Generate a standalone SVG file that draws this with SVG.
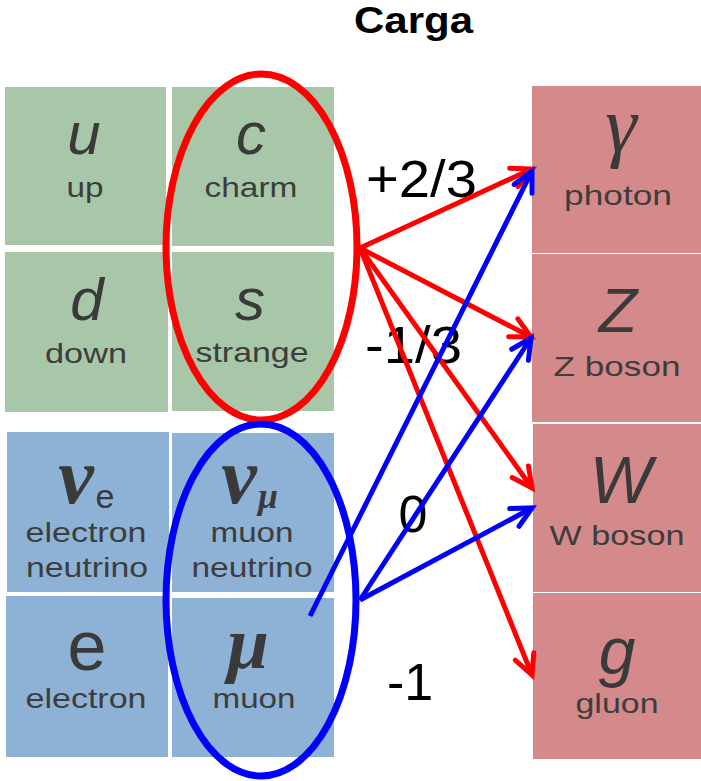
<svg xmlns="http://www.w3.org/2000/svg" width="701" height="781" viewBox="0 0 701 781">
<style>
.g{fill:#a8c6a8}.b{fill:#8eb2d6}.r{fill:#d48a8a}
.sym{font-family:"Liberation Sans",Arial,sans-serif;font-style:italic;fill:#3a3a3a;text-anchor:middle}
.ser{font-family:"Liberation Serif","Times New Roman",serif;font-style:italic;fill:#3a3a3a;text-anchor:middle}
.lbl{font-family:"Liberation Sans",Arial,sans-serif;font-size:28px;fill:#3d3d3d;text-anchor:middle}
.chg{font-family:"Liberation Sans",Arial,sans-serif;font-size:52px;fill:#000}
.ra{stroke:#ff0000;stroke-width:5;fill:none;marker-end:url(#mr)}
.ba{stroke:#0000ff;stroke-width:5;fill:none;marker-end:url(#mb)}
</style>
<defs>
<marker id="mr" markerUnits="userSpaceOnUse" markerWidth="26" markerHeight="26" refX="22" refY="12" orient="auto" overflow="visible">
<path d="M2,2 L22,12 L2,22" fill="none" stroke="#ff0000" stroke-width="5" stroke-linecap="round" stroke-linejoin="miter"/>
</marker>
<marker id="mb" markerUnits="userSpaceOnUse" markerWidth="26" markerHeight="26" refX="22" refY="12" orient="auto" overflow="visible">
<path d="M2,2 L22,12 L2,22" fill="none" stroke="#0000ff" stroke-width="5" stroke-linecap="round" stroke-linejoin="miter"/>
</marker>
</defs>
<rect width="701" height="781" fill="#fff"/>
<text x="354" y="33" font-family="Liberation Sans,Arial,sans-serif" font-weight="bold" font-size="36" textLength="119" lengthAdjust="spacingAndGlyphs">Carga</text>

<g id="up"><rect class="g" x="5" y="87" width="161" height="158"/><text class="sym" x="84" y="154" font-size="60">u</text><text class="lbl" x="85" y="197" textLength="37" lengthAdjust="spacingAndGlyphs">up</text></g>
<g id="charm"><rect class="g" x="172" y="87" width="162" height="159"/><text class="sym" x="251" y="154" font-size="60">c</text><text class="lbl" x="251" y="197" textLength="93" lengthAdjust="spacingAndGlyphs">charm</text></g>
<g id="down"><rect class="g" x="5" y="252" width="163" height="160"/><text class="sym" x="87" y="320" font-size="60">d</text><text class="lbl" x="86" y="363" textLength="82" lengthAdjust="spacingAndGlyphs">down</text></g>
<g id="strange"><rect class="g" x="172" y="252" width="162" height="159"/><text class="sym" x="250" y="320" font-size="60">s</text><text class="lbl" x="252" y="362" textLength="113" lengthAdjust="spacingAndGlyphs">strange</text></g>

<g id="nue"><rect class="b" x="7" y="432" width="162" height="160"/><text class="ser" x="76" y="503" font-size="80" font-weight="bold">ν</text><text x="105" y="508" font-family="Liberation Sans,Arial,sans-serif" font-size="34" fill="#3a3a3a" text-anchor="middle">e</text><text class="lbl" x="86" y="542" textLength="121" lengthAdjust="spacingAndGlyphs">electron</text><text class="lbl" x="87" y="577" textLength="122" lengthAdjust="spacingAndGlyphs">neutrino</text></g>
<g id="numu"><rect class="b" x="172" y="433" width="162" height="159"/><text class="ser" x="239" y="503" font-size="80" font-weight="bold">ν</text><text class="ser" x="268" y="508" font-size="36" font-weight="bold">μ</text><text class="lbl" x="252" y="542" textLength="83" lengthAdjust="spacingAndGlyphs">muon</text><text class="lbl" x="252" y="577" textLength="121" lengthAdjust="spacingAndGlyphs">neutrino</text></g>
<g id="electron"><rect class="b" x="6" y="596" width="162" height="161"/><text x="87" y="670" font-family="Liberation Sans,Arial,sans-serif" font-size="70" fill="#3a3a3a" text-anchor="middle">e</text><text class="lbl" x="86" y="708" textLength="121" lengthAdjust="spacingAndGlyphs">electron</text></g>
<g id="muon"><rect class="b" x="172" y="598" width="162" height="159"/><text class="ser" x="248" y="668" font-size="75" font-weight="bold">μ</text><text class="lbl" x="254" y="708" textLength="83" lengthAdjust="spacingAndGlyphs">muon</text></g>

<g id="photon"><rect class="r" x="532" y="86" width="169" height="167"/><text class="ser" x="621" y="152" font-size="80">γ</text><text class="lbl" x="618" y="205" textLength="108" lengthAdjust="spacingAndGlyphs">photon</text></g>
<g id="zboson"><rect class="r" x="532" y="254" width="169" height="168"/><text class="sym" x="618" y="332" font-size="63">Z</text><text class="lbl" x="617" y="376" textLength="127" lengthAdjust="spacingAndGlyphs">Z boson</text></g>
<g id="wboson"><rect class="r" x="533" y="424" width="168" height="168"/><text class="sym" x="621" y="503" font-size="66">W</text><text class="lbl" x="617" y="545" textLength="135" lengthAdjust="spacingAndGlyphs">W boson</text></g>
<g id="gluon"><rect class="r" x="533" y="593" width="168" height="166"/><text class="sym" x="617" y="674" font-size="66">g</text><text class="lbl" x="617" y="713" textLength="83" lengthAdjust="spacingAndGlyphs">gluon</text></g>

<g id="labels">
<text class="chg" x="366" y="197" textLength="111" lengthAdjust="spacingAndGlyphs">+2/3</text>
<text class="chg" x="365" y="363" textLength="97" lengthAdjust="spacingAndGlyphs">-1/3</text>
<text class="chg" x="413" y="532" text-anchor="middle">0</text>
<text class="chg" x="387" y="700">-1</text>
</g>

<g id="groups">
<ellipse cx="261.5" cy="247" rx="95.5" ry="173" fill="none" stroke="#ff0000" stroke-width="7"/>
<ellipse cx="261" cy="600" rx="95" ry="176" fill="none" stroke="#0000ff" stroke-width="7"/>
</g>

<g id="connectors">
<line class="ra" x1="360" y1="248" x2="532" y2="169"/>
<line class="ra" x1="360" y1="248" x2="531" y2="337"/>
<line class="ra" x1="360" y1="248" x2="532" y2="488"/>
<line class="ra" x1="360" y1="248" x2="532" y2="675"/>
<line class="ba" x1="310" y1="616" x2="532" y2="171"/>
<line class="ba" x1="360" y1="600" x2="531" y2="338"/>
<line class="ba" x1="360" y1="600" x2="532" y2="508"/>
</g>
</svg>
